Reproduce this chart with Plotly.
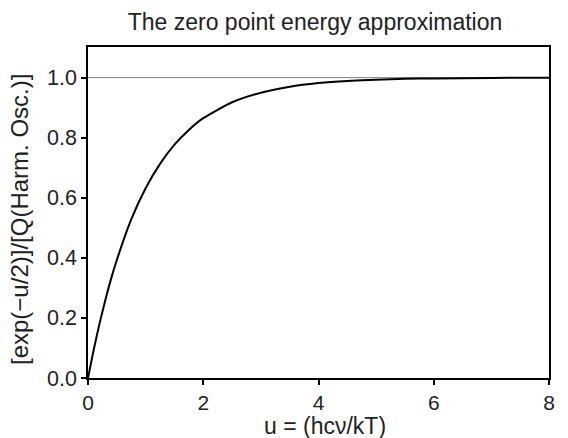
import plotly.graph_objects as go

u_vals = [0, 0.1, 0.2, 0.3, 0.4, 0.5, 0.75, 1.0, 1.25, 1.5, 1.75, 2.0, 2.5, 3.0, 3.5, 4.0, 4.5, 5.0, 5.5, 6.0, 7.0, 8.0]
ratio_vals = [0, 0.095, 0.181, 0.259, 0.33, 0.393, 0.528, 0.632, 0.713, 0.777, 0.826, 0.865, 0.918, 0.950, 0.970, 0.982, 0.989, 0.993, 0.996, 0.9975, 0.999, 1.0]
x_ticks = [0, 2, 4, 6, 8]
y_ticks = [0.0, 0.2, 0.4, 0.6, 0.8, 1.0]

W, H = 568, 438
L, R, T, B = 88, 19, 47, 60
PW, PH = W - L - R, H - T - B
fig = go.Figure()
fig.add_trace(go.Scatter(x=[0, 8], y=[1, 1], mode="lines",
                         line=dict(color="#808080", width=1), hoverinfo="skip", showlegend=False))
fig.add_trace(go.Scatter(x=u_vals, y=ratio_vals, mode="lines",
                         line=dict(color="black", width=2, shape="spline", smoothing=0.6), showlegend=False))

font = "Liberation Sans, Arial, sans-serif"
fig.update_layout(
    width=W, height=H,
    margin=dict(l=L, r=R, t=T, b=B),
    paper_bgcolor="white", plot_bgcolor="white",
    font=dict(family=font, color="#222", size=21),
    title=dict(text="The zero point energy approximation", xref="container", x=315 / W, xanchor="center",
               y=1 - 22 / H, yanchor="middle", font=dict(size=23, family=font)),
    xaxis=dict(range=[0, 8], tickvals=x_ticks, ticktext=[str(v) for v in x_ticks],
               showgrid=False, zeroline=False, showline=True, linecolor="black", linewidth=1.5,
               mirror=True, ticks="outside", ticklen=5, tickcolor="black", tickwidth=1.5,
               tickfont=dict(size=21), automargin=False),
    yaxis=dict(range=[0, 1.102], tickvals=y_ticks, ticktext=[f"{v:.1f}" for v in y_ticks],
               showgrid=False, zeroline=False, showline=True, linecolor="black", linewidth=1.5,
               mirror=True, ticks="outside", ticklen=5, tickcolor="black", tickwidth=1.5,
               tickfont=dict(size=21.5), automargin=False),
    annotations=[
        dict(text="u = (hcν/kT)", xref="paper", yref="paper", x=(325 - L) / PW, y=-(426 - (H - B)) / PH,
             xanchor="center", yanchor="middle", showarrow=False, font=dict(size=23, family=font)),
        dict(text="[exp(−u/2)]/[Q(Harm. Osc.)]", xref="paper", yref="paper",
             x=-(L - 19) / PW, y=((H - B) - 220) / PH, xanchor="center", yanchor="middle",
             textangle=-90, showarrow=False, font=dict(size=24, family=font)),
    ],
)

fig.write_html("out.html")
